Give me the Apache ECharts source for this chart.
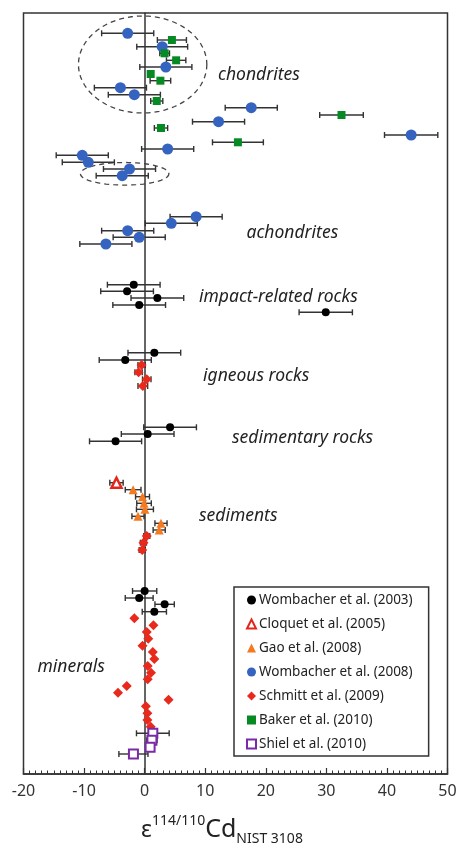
<!DOCTYPE html>
<html>
<head>
<meta charset="utf-8">
<script src="https://cdn.jsdelivr.net/npm/echarts@6/dist/echarts.min.js"></script>
<style>
  html, body { margin: 0; padding: 0; background: #fff; }
  #chart { width: 458px; height: 843px; }
</style>
</head>
<body>
<div id="chart"></div>
<script>
// each point: [epsilon value, vertical position (0 = top of plot), 2sd error]
const wombacher2003 = [
  [-1.8, 271.7, 4.35], [-2.9, 278.3, 4.35], [2.1, 285, 4.35], [-0.9, 292, 4.35], [29.9, 299.3, 4.4],
  [1.6, 339.7, 4.35], [-3.2, 347, 4.3],
  [4.2, 414.3, 4.35], [0.5, 421, 4.35], [-4.8, 428.3, 4.3],
  [0.0, 578, 2.0], [-0.9, 585, 2.3], [3.3, 591.3, 1.6], [1.6, 598.7, 2.0]
]
const cloquet2005 = [[-4.65, 469.7, 1.1]]
const gao2008 = [
  [-1.9, 476.7, 1.3], [-0.35, 483.7, 1.15], [-0.1, 490.3, 1.2], [0.05, 496.3, 1.4],
  [-1.1, 503.3, 1.0], [2.7, 510.3, 1.0], [2.4, 517, 1.0]
]
const wombacher2008 = [
  [-2.8, 20.3, 4.3], [2.9, 33.7, 4.2], [3.5, 54, 4.3], [-4.0, 74.7, 4.3], [-1.7, 81.7, 4.3],
  [17.6, 94.7, 4.3], [12.2, 108.7, 4.3], [44.0, 122, 4.4], [3.8, 136, 4.3],
  [-10.3, 142.3, 4.3], [-9.3, 149.3, 4.3], [-2.5, 156, 4.3], [-3.7, 162.7, 4.3],
  [8.5, 203.7, 4.3], [4.4, 210.3, 4.3], [-2.8, 217.7, 4.3], [-0.9, 224.3, 4.3], [-6.4, 231, 4.3]
]
const schmitt2009 = [
  [-0.5, 352, 0.6], [-1.0, 359.3, 0.6], [0.35, 366.3, 0.7], [-0.3, 373, 0.8],
  [0.35, 523, 0.5], [-0.2, 529.7, 0.5], [-0.4, 537, 0.5],
  [-1.7, 605.3, 0], [1.45, 612.3, 0], [0.35, 619, 0], [0.6, 625.7, 0], [-0.35, 632.7, 0],
  [1.35, 639, 0], [1.6, 646, 0], [0.5, 653, 0], [1.05, 659.7, 0], [0.5, 666.3, 0],
  [-2.95, 673, 0], [-4.4, 679.7, 0], [3.95, 686.7, 0], [0.2, 693.3, 0], [0.45, 700.3, 0],
  [0.45, 707, 0], [1.0, 713.7, 0]
]
const baker2010 = [
  [4.5, 27, 2.4], [3.3, 40.3, 0.8], [5.2, 47.3, 1.6], [1.0, 61, 0.4], [2.6, 67.7, 1.7],
  [2.0, 88, 1.0], [32.5, 102, 3.6], [2.7, 115, 1.1], [15.4, 129.3, 4.2]
]
const shiel2010 = [[1.35, 720.3, 2.7], [1.2, 727.3, 0.85], [0.9, 734.3, 0.7], [-1.85, 741, 2.4]]
// dashed ellipses round the chondrite groups: [cx, cy, rx, ry]
const chondriteRings = [[-0.33, 51.5, 10.6, 48.5], [-3.3, 160.8, 7.3, 11.3]]
const xTicks = { min: -20, max: 50, step: 10 }

const FONT = 'Noto Sans'
const chart = echarts.init(document.getElementById('chart'))

const errRender = function (params, api) {
  const x = api.value(0), y = api.value(1), e = api.value(2)
  if (!e) return null
  const lo = api.coord([x - e, y])
  const hi = api.coord([x + e, y])
  const st = { stroke: '#333', lineWidth: 1.4 }
  const h = 3
  return {
    type: 'group',
    children: [
      { type: 'line', shape: { x1: lo[0], y1: lo[1], x2: hi[0], y2: hi[1] }, style: st },
      { type: 'line', shape: { x1: lo[0], y1: lo[1] - h, x2: lo[0], y2: lo[1] + h }, style: st },
      { type: 'line', shape: { x1: hi[0], y1: hi[1] - h, x2: hi[0], y2: hi[1] + h }, style: st }
    ]
  }
}

const ringRender = function (params, api) {
  const c = api.coord([api.value(0), api.value(1)])
  const s = api.size([api.value(2), api.value(3)])
  const pts = []
  for (let i = 0; i < 72; i++) {
    const a = i / 72 * Math.PI * 2
    pts.push([c[0] + s[0] * Math.cos(a), c[1] + s[1] * Math.sin(a)])
  }
  return {
    type: 'polygon',
    shape: { points: pts },
    style: { fill: 'none', stroke: '#444', lineWidth: 1.3, lineDash: [5, 4] }
  }
}

const sets = [
  { name: 'Wombacher et al. (2003)', data: wombacher2003, symbol: 'circle', size: 8, itemStyle: { color: '#000' } },
  { name: 'Cloquet et al. (2005)', data: cloquet2005, symbol: 'triangle', size: 10, itemStyle: { color: '#fff', borderColor: '#e3261c', borderWidth: 2.5 } },
  { name: 'Gao et al. (2008)', data: gao2008, symbol: 'triangle', size: 9, itemStyle: { color: '#f47a20' } },
  { name: 'Wombacher et al. (2008)', data: wombacher2008, symbol: 'circle', size: 11, itemStyle: { color: '#3563c0' } },
  { name: 'Schmitt et al. (2009)', data: schmitt2009, symbol: 'diamond', size: 10, itemStyle: { color: '#e8291c' } },
  { name: 'Baker et al. (2010)', data: baker2010, symbol: 'rect', size: 8, itemStyle: { color: '#068a24' } },
  { name: 'Shiel et al. (2010)', data: shiel2010, symbol: 'rect', size: 9, itemStyle: { color: '#fff', borderColor: '#7a2aa8', borderWidth: 2 } }
]

const series = [{
  type: 'custom',
  renderItem: ringRender,
  data: chondriteRings,
  silent: true,
  z: 1
}]
sets.forEach(function (s) {
  series.push({
    type: 'custom',
    renderItem: errRender,
    data: s.data,
    encode: { x: 0, y: 1 },
    silent: true,
    z: 2
  })
})
sets.forEach(function (s) {
  series.push({
    name: s.name,
    type: 'scatter',
    data: s.data,
    encode: { x: 0, y: 1 },
    symbol: s.symbol,
    symbolSize: s.size,
    itemStyle: Object.assign({ opacity: 1 }, s.itemStyle),
    z: 3
  })
})

const catLabel = function (text, x, y) {
  return {
    type: 'text', x: x, y: y, z: 10,
    style: { text: text, fontFamily: FONT, fontSize: 17.5, fontStyle: 'italic', fill: '#222', verticalAlign: 'middle' }
  }
}

const option = {
  animation: false,
  textStyle: { fontFamily: FONT },
  grid: {
    left: 23.5, right: 10.5, top: 13, bottom: 69,
    outerBoundsMode: 'none',
    containLabel: false,
    show: true, borderColor: '#333', borderWidth: 1.5
  },
  legend: {
    orient: 'vertical',
    left: 234, top: 587,
    data: sets.map(function (s) { return s.name }),
    itemWidth: 9, itemHeight: 9, itemGap: 10,
    padding: [6, 16, 5, 12],
    borderColor: '#333', borderWidth: 1.5,
    backgroundColor: '#fff',
    selectedMode: false,
    textStyle: { fontFamily: FONT, fontSize: 13.5, color: '#222', lineHeight: 14, padding: [0, 0, 0, -2] }
  },
  xAxis: {
    type: 'value',
    min: xTicks.min, max: xTicks.max, interval: xTicks.step,
    axisLine: { onZero: false, lineStyle: { color: '#333', width: 1.5 } },
    axisTick: { inside: true, length: 6, lineStyle: { color: '#333', width: 1.2 } },
    minorTick: { show: true, splitNumber: 10, length: 3.5, lineStyle: { color: '#333', width: 1 } },
    splitLine: { show: false },
    axisLabel: { fontFamily: FONT, fontSize: 16, color: '#333', margin: 9 },
    name: '{e|ε}{s|114/110}{c|Cd}{b|NIST 3108}',
    nameLocation: 'middle',
    nameGap: 40,
    nameTextStyle: {
      padding: [0, 27, 0, 0],
      rich: {
        e: { fontFamily: FONT, fontSize: 23, color: '#222', lineHeight: 32, verticalAlign: 'middle' },
        s: { fontFamily: FONT, fontSize: 14, color: '#222', lineHeight: 14, verticalAlign: 'top' },
        c: { fontFamily: FONT, fontSize: 25, color: '#222', lineHeight: 32, verticalAlign: 'middle' },
        b: { fontFamily: FONT, fontSize: 14, color: '#222', lineHeight: 14, verticalAlign: 'bottom' }
      }
    }
  },
  yAxis: {
    type: 'value',
    inverse: true,
    min: 0, max: 761,
    axisLine: { show: true, onZero: true, lineStyle: { color: '#333', width: 1.5 } },
    axisTick: { show: false },
    axisLabel: { show: false },
    splitLine: { show: false }
  },
  graphic: [
    catLabel('chondrites', 218, 75),
    catLabel('achondrites', 246.5, 233.5),
    catLabel('impact-related rocks', 199, 297.5),
    catLabel('igneous rocks', 203, 376),
    catLabel('sedimentary rocks', 232, 438),
    catLabel('sediments', 199, 516),
    catLabel('minerals', 37.5, 667)
  ],
  series: series
}
chart.setOption(option)
</script>
</body>
</html>
